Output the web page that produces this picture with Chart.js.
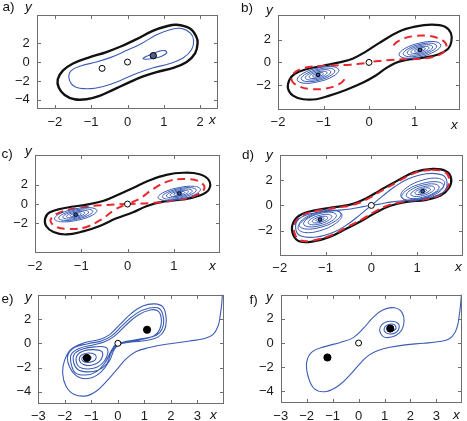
<!DOCTYPE html>
<html><head><meta charset="utf-8">
<script src="https://cdn.jsdelivr.net/npm/chart.js@4.4.1/dist/chart.umd.min.js"></script>
<style>
html,body{margin:0;padding:0;background:#fff;}
body{width:467px;height:421px;position:relative;overflow:hidden;font-family:"Liberation Sans",Arial,Helvetica,sans-serif;}
.pw{position:absolute;}
.pw canvas{display:block;}
.t{position:absolute;font-size:13.5px;line-height:14px;color:#111;white-space:nowrap;}
.i{font-style:italic;}
</style></head><body>
<script>
// ---------------- DATA ----------------
// tick values
const A_XTICKS = [-2,-1,0,1,2];
const A_YTICKS = [-4,-2,0,2];
const BCD_XTICKS = [-2,-1,0,1];
const BCD_YTICKS = [-2,0,2];
const EF_XTICKS = [-3,-2,-1,0,1,2,3];
const EF_YTICKS = [-4,-2,0,2];

// panel a
const A_BOUNDARY = [[1.35,3.94],[1.72,3.55],[1.89,2.73],[1.93,1.97],[1.86,0.91],[1.63,0],[1.26,-0.61],[0.80,-1.06],[0.43,-1.52],[0.06,-2.12],[-0.40,-2.94],[-0.77,-3.58],[-1.13,-3.94],[-1.46,-3.94],[-1.73,-3.48],[-1.89,-2.73],[-1.92,-1.82],[-1.78,-0.91],[-1.50,-0.15],[-1.09,0.45],[-0.58,1.06],[-0.17,1.67],[0.25,2.42],[0.71,3.33],[1.08,3.79]];
const A_INNER = [[1.49,3.55],[1.74,3.03],[1.82,2.27],[1.77,1.36],[1.54,0.45],[1.17,-0.15],[0.71,-0.61],[0.25,-1.21],[-0.21,-1.97],[-0.67,-2.58],[-1.09,-2.82],[-1.46,-2.58],[-1.61,-1.73],[-1.55,-0.91],[-1.27,-0.39],[-0.86,0],[-0.44,0.52],[-0.03,1.21],[0.39,1.97],[0.80,2.88],[1.17,3.42]];
const A_LOOP = [[0.43,0.39],[0.62,0.76],[0.85,1.12],[1.03,1.21],[1.08,0.97],[0.94,0.61],[0.71,0.39],[0.53,0.30]];
const A_SADDLES = [[-0.70,-0.67],[0,0]];
const A_FOCUS = [[0.71,0.67]];

// panel b
const B_BOUNDARY = [[1.38,3.33],[1.67,3.15],[1.80,2.58],[1.81,1.83],[1.74,1.2],[1.52,0.7],[1.16,0.4],[0.80,0.2],[0.58,-0.05],[0.36,-0.55],[0.14,-1.18],[-0.14,-1.8],[-0.51,-2.43],[-0.87,-2.93],[-1.16,-3.25],[-1.45,-3.25],[-1.67,-2.93],[-1.78,-2.3],[-1.75,-1.55],[-1.63,-1.0],[-1.38,-0.6],[-1.01,-0.3],[-0.65,0],[-0.36,0.33],[-0.07,0.95],[0.22,1.7],[0.65,2.7],[1.01,3.15]];
const B_RED_R = [[0.1,0.08],[0.4,0.2],[0.75,0.27],[1.1,0.32],[1.45,0.52],[1.67,1.02],[1.69,1.65],[1.53,2.12],[1.25,2.36],[0.95,2.3],[0.7,2.0],[0.55,1.55],[0.56,1.1]];
const B_RED_L = [[-0.1,-0.08],[-0.4,-0.2],[-0.75,-0.27],[-1.1,-0.32],[-1.45,-0.52],[-1.67,-1.02],[-1.69,-1.65],[-1.53,-2.12],[-1.25,-2.36],[-0.95,-2.3],[-0.7,-2.0],[-0.55,-1.55],[-0.56,-1.1]];
const BC_RINGS_R = [
 [[1.58,1.52],[1.45,1.83],[1.12,1.71],[0.79,1.23],[0.66,0.68],[0.79,0.38],[1.12,0.49],[1.45,0.97]],
 [[1.49,1.44],[1.38,1.69],[1.12,1.59],[0.86,1.2],[0.75,0.76],[0.86,0.51],[1.12,0.61],[1.38,1.0]],
 [[1.40,1.36],[1.32,1.55],[1.12,1.48],[0.92,1.18],[0.84,0.84],[0.92,0.65],[1.12,0.72],[1.32,1.02]],
 [[1.32,1.29],[1.26,1.42],[1.12,1.37],[0.98,1.16],[0.92,0.91],[0.98,0.78],[1.12,0.83],[1.26,1.04]],
 [[1.24,1.21],[1.21,1.3],[1.12,1.26],[1.03,1.13],[1.0,0.99],[1.03,0.9],[1.12,0.94],[1.21,1.07]],
 [[1.18,1.16],[1.16,1.2],[1.12,1.18],[1.08,1.12],[1.06,1.04],[1.08,1.0],[1.12,1.02],[1.16,1.08]]
];
const BC_RINGS_L = [
 [[-1.58,-1.52],[-1.45,-1.83],[-1.12,-1.71],[-0.79,-1.23],[-0.66,-0.68],[-0.79,-0.38],[-1.12,-0.49],[-1.45,-0.97]],
 [[-1.49,-1.44],[-1.38,-1.69],[-1.12,-1.59],[-0.86,-1.2],[-0.75,-0.76],[-0.86,-0.51],[-1.12,-0.61],[-1.38,-1.0]],
 [[-1.40,-1.36],[-1.32,-1.55],[-1.12,-1.48],[-0.92,-1.18],[-0.84,-0.84],[-0.92,-0.65],[-1.12,-0.72],[-1.32,-1.02]],
 [[-1.32,-1.29],[-1.26,-1.42],[-1.12,-1.37],[-0.98,-1.16],[-0.92,-0.91],[-0.98,-0.78],[-1.12,-0.83],[-1.26,-1.04]],
 [[-1.24,-1.21],[-1.21,-1.3],[-1.12,-1.26],[-1.03,-1.13],[-1.0,-0.99],[-1.03,-0.9],[-1.12,-0.94],[-1.21,-1.07]],
 [[-1.18,-1.16],[-1.16,-1.2],[-1.12,-1.18],[-1.08,-1.12],[-1.06,-1.04],[-1.08,-1.0],[-1.12,-1.02],[-1.16,-1.08]]
];
const BC_FOCI = [[1.12,1.1],[-1.12,-1.1]];
const SADDLE0 = [[0,0]];

// panel c
const C_BOUNDARY = [[1.20,3.24],[1.56,3.09],[1.76,2.46],[1.76,1.51],[1.56,0.88],[1.20,0.47],[0.77,0.25],[0.41,-0.22],[0.12,-0.85],[-0.24,-1.48],[-0.60,-2.27],[-0.96,-2.83],[-1.32,-3.15],[-1.60,-2.9],[-1.76,-2.27],[-1.78,-1.48],[-1.68,-0.85],[-1.32,-0.38],[-0.88,-0.06],[-0.53,0.31],[-0.24,0.88],[0.12,1.67],[0.48,2.46],[0.84,3.02]];
const C_RED_R = [[0,0],[0.55,0.12],[0.98,0.34],[1.42,0.8],[1.66,1.57],[1.57,2.3],[1.27,2.58],[0.91,2.4],[0.55,1.55],[0.27,0.57],[0,0]];
const C_RED_L = [[0,0],[-0.55,-0.12],[-0.98,-0.34],[-1.42,-0.8],[-1.66,-1.57],[-1.57,-2.3],[-1.27,-2.58],[-0.91,-2.4],[-0.55,-1.55],[-0.27,-0.57],[0,0]];

// panel d
const D_BOUNDARY = [[1.34,2.88],[1.63,2.71],[1.74,2.15],[1.70,1.41],[1.52,0.80],[1.20,0.44],[0.76,0.27],[0.40,-0.05],[0.11,-0.54],[-0.18,-1.15],[-0.54,-1.83],[-0.91,-2.49],[-1.27,-2.85],[-1.56,-2.85],[-1.70,-2.37],[-1.72,-1.51],[-1.56,-0.78],[-1.20,-0.37],[-0.76,-0.12],[-0.40,0.12],[-0.11,0.56],[0.18,1.17],[0.54,1.90],[0.94,2.63]];
const D_RED = [[1.33,2.8],[1.6,2.64],[1.7,2.13],[1.66,1.41],[1.49,0.84],[1.19,0.5],[0.76,0.33],[0.38,0.02],[0.09,-0.47],[-0.19,-1.07],[-0.55,-1.75],[-0.91,-2.41],[-1.27,-2.77],[-1.54,-2.78],[-1.66,-2.35],[-1.68,-1.51],[-1.52,-0.82],[-1.19,-0.43],[-0.76,-0.18],[-0.39,0.05],[-0.09,0.49],[0.19,1.09],[0.55,1.82],[0.94,2.55]];
const D_FIG8 = [[0,0],[0.25,0.75],[0.5,1.45],[0.8,2.08],[1.2,2.5],[1.55,2.4],[1.65,1.85],[1.6,1.15],[1.35,0.68],[0.9,0.45],[0.45,0.28],[0.15,0.08],[0,0],[-0.15,-0.08],[-0.45,-0.28],[-0.9,-0.45],[-1.35,-0.68],[-1.6,-1.15],[-1.65,-1.85],[-1.55,-2.4],[-1.2,-2.5],[-0.8,-2.08],[-0.5,-1.45],[-0.25,-0.75],[0,0]];
const D_RINGS_R = [
 [[1.6,1.78],[1.46,2.14],[1.12,2.0],[0.78,1.43],[0.64,0.78],[0.78,0.42],[1.12,0.56],[1.46,1.13]],
 [[1.58,1.55],[1.45,1.86],[1.12,1.74],[0.79,1.25],[0.66,0.69],[0.79,0.38],[1.12,0.5],[1.45,0.99]],
 [[1.48,1.45],[1.38,1.69],[1.12,1.6],[0.86,1.22],[0.76,0.79],[0.86,0.55],[1.12,0.64],[1.38,1.02]],
 [[1.38,1.36],[1.31,1.53],[1.12,1.46],[0.94,1.19],[0.86,0.88],[0.94,0.71],[1.12,0.78],[1.31,1.05]],
 [[1.29,1.27],[1.24,1.39],[1.12,1.34],[1.0,1.17],[0.95,0.97],[1.0,0.86],[1.12,0.9],[1.24,1.07]],
 [[1.21,1.2],[1.18,1.26],[1.12,1.24],[1.06,1.14],[1.03,1.04],[1.06,0.98],[1.12,1.0],[1.18,1.1]]
];
const D_RINGS_L = [
 [[-1.6,-1.78],[-1.46,-2.14],[-1.12,-2.0],[-0.78,-1.43],[-0.64,-0.78],[-0.78,-0.42],[-1.12,-0.56],[-1.46,-1.13]],
 [[-1.58,-1.55],[-1.45,-1.86],[-1.12,-1.74],[-0.79,-1.25],[-0.66,-0.69],[-0.79,-0.38],[-1.12,-0.5],[-1.45,-0.99]],
 [[-1.48,-1.45],[-1.38,-1.69],[-1.12,-1.6],[-0.86,-1.22],[-0.76,-0.79],[-0.86,-0.55],[-1.12,-0.64],[-1.38,-1.02]],
 [[-1.38,-1.36],[-1.31,-1.53],[-1.12,-1.46],[-0.94,-1.19],[-0.86,-0.88],[-0.94,-0.71],[-1.12,-0.78],[-1.31,-1.05]],
 [[-1.29,-1.27],[-1.24,-1.39],[-1.12,-1.34],[-1.0,-1.17],[-0.95,-0.97],[-1.0,-0.86],[-1.12,-0.9],[-1.24,-1.07]],
 [[-1.21,-1.2],[-1.18,-1.26],[-1.12,-1.24],[-1.06,-1.14],[-1.03,-1.04],[-1.06,-0.98],[-1.12,-1.0],[-1.18,-1.1]]
];
const D_FOCI = [[1.12,1.12],[-1.12,-1.12]];

// panel e
const E_TRAJ = [
 [3.98,4.6],[3.94,4.05],[3.92,3.39],[3.86,2.32],[3.77,1.39],[3.58,0.72],[3.27,0.4],[2.7,0.19],[1.82,-0.08],[1.19,-0.35],[0.69,-0.67],[0.31,-1.28],[-0.06,-2.21],[-0.44,-3.15],[-0.82,-3.95],[-1.19,-4.33],[-1.64,-4.21],[-1.95,-3.55],[-2.08,-2.48],[-2.01,-1.41],[-1.76,-0.48],[-1.26,0.05],[-0.69,0.32],[-0.31,0.72],[0.06,1.52],[0.5,2.45],[0.94,3.07],[1.38,3.25],[1.7,2.99],[1.82,2.05],[1.76,1.12],[1.51,0.51],[1.07,0.24],[0.5,0.11],[0.06,-0.08],
 [-0.13,-0.48],[-0.31,-1.41],[-0.63,-2.35],[-1.07,-2.88],[-1.51,-2.75],[-1.82,-1.95],[-1.89,-1.01],[-1.64,-0.35],[-1.13,-0.03],[-0.63,0.19],[-0.25,0.59],[0.19,1.52],[0.69,2.45],[1.19,2.91],[1.57,2.85],[1.72,2.05],[1.67,1.2],[1.45,0.67],[0.94,0.4],[0.38,0.19],[-0.06,-0.08],
 [-0.25,-0.61],[-0.47,-1.55],[-0.82,-2.35],[-1.22,-2.61],[-1.6,-2.43],[-1.76,-1.68],[-1.76,-0.93],[-1.47,-0.43],[-0.94,-0.13],[-0.5,0.13],[-0.13,0.59],[0.29,1.47],[0.75,2.32],[1.22,2.75],[1.53,2.64],[1.64,1.92],[1.57,1.12],[1.35,0.61],[0.88,0.32],[0.38,0.11],[-0.04,-0.13],
 [-0.25,-0.75],[-0.42,-1.68],[-0.75,-2.21],[-1.17,-2.35],[-1.51,-2.16],[-1.67,-1.55],[-1.64,-0.88],[-1.35,-0.48],[-0.88,-0.29],[-0.44,-0.35],
 [-0.38,-0.8],[-0.52,-1.5],[-0.8,-1.98],[-1.15,-2.12],[-1.45,-1.96],[-1.57,-1.5],[-1.53,-0.97],[-1.3,-0.64],[-0.95,-0.52],[-0.62,-0.65],
 [-0.58,-1.05],[-0.72,-1.55],[-1.0,-1.8],[-1.3,-1.75],[-1.45,-1.4],[-1.38,-0.98],[-1.1,-0.8],[-0.85,-0.95],
 [-0.85,-1.35],[-1.05,-1.55],[-1.3,-1.5],[-1.35,-1.2],[-1.2,-1.02],[-1.02,-1.12],[-1.05,-1.35],[-1.2,-1.35],[-1.22,-1.22]
];
const E_STABLE = [[-1.17,-1.2],[1.1,1.12]];

// panel f
const F_TRAJ = [
 [3.99,4.6],[3.96,3.9],[3.92,3.0],[3.88,2.3],[3.82,1.5],[3.72,0.9],[3.5,0.35],[3.1,0.12],[2.5,-0.02],[1.8,-0.15],[1.2,-0.35],[0.75,-0.62],[0.4,-1.0],[0.1,-1.6],[-0.25,-2.45],[-0.75,-3.5],[-1.25,-4.02],[-1.7,-3.8],[-1.94,-2.8],[-2.0,-1.6],[-1.8,-0.75],[-1.3,-0.3],[-0.7,0.05],[-0.2,0.45],[0.2,1.25],[0.55,2.1],[0.95,2.75],[1.38,2.92],[1.68,2.5],[1.74,1.6],[1.55,0.8],[1.1,0.45],[0.85,0.8],[0.87,1.45],[1.2,1.8],[1.53,1.6],[1.52,1.05],[1.25,0.75],[1.0,0.98],[1.05,1.42],[1.35,1.55],[1.44,1.2],[1.25,1.0],[1.12,1.18],[1.22,1.3],[1.28,1.2]
];
const F_STABLE = [[-1.2,-1.2],[1.22,1.2]];

// ---------------- RENDERING ----------------
const FONT = '"Liberation Sans", Arial, Helvetica, sans-serif';
const BLUE = '#3a5cb4';
const RED = '#e8262e';
const BLACK = '#111111';
const FRAME = '#6e6e6e';
const DASH = [8,5];

function pts(a){ return a.map(p => ({x:p[0], y:p[1]})); }
function curve(d, color, w, extra){
  return Object.assign({type:'line', data:pts(d), borderColor:color, borderWidth:w, pointRadius:0, pointHoverRadius:0, tension:0.4, fill:false, showLine:true}, extra || {});
}
function ring(d, color, w, extra){ return curve(d, color, w, Object.assign({closed:true}, extra || {})); }
function dots(d, fill, r){
  return {type:'line', data:pts(d), showLine:false, pointRadius:r, pointHoverRadius:r, pointBackgroundColor:fill, pointBorderColor:'#000', pointBorderWidth:1, borderWidth:0};
}
function fmt(v){ return v < 0 ? '\u2212' + (-v) : String(v); }

const loopPlugin = {
  id:'loopfix',
  afterDatasetUpdate(chart, args){
    const ds = chart.data.datasets[args.index];
    if (ds && ds.closed && args.meta && args.meta.dataset){
      const el = args.meta.dataset;
      el._loop = true; el._fullLoop = true;
      delete el._segments; el._path = undefined; el._pointsUpdated = false;
    }
  }
};
const framePlugin = {
  id:'frame',
  afterDraw(chart){
    const {ctx, chartArea:a} = chart;
    const sx = chart.scales.x, sy = chart.scales.y;
    const L = Math.round(a.left)+0.5, R = Math.round(a.right)-0.5, T = Math.round(a.top)+0.5, B = Math.round(a.bottom)-0.5;
    ctx.save();
    ctx.strokeStyle = FRAME; ctx.lineWidth = 1;
    ctx.strokeRect(L, T, R-L, B-T);
    ctx.beginPath();
    sx.ticks.forEach(t => { const p = Math.round(sx.getPixelForValue(t.value))+0.5; ctx.moveTo(p,B); ctx.lineTo(p,B-3.5); ctx.moveTo(p,T); ctx.lineTo(p,T+3.5); });
    sy.ticks.forEach(t => { const p = Math.round(sy.getPixelForValue(t.value))+0.5; ctx.moveTo(L,p); ctx.lineTo(L+3.5,p); ctx.moveTo(R,p); ctx.lineTo(R-3.5,p); });
    ctx.stroke();
    ctx.restore();
  }
};

function panel(cv, box, xr, yr, xt, yt, datasets){
  const wrap = document.createElement('div');
  wrap.className = 'pw';
  wrap.style.left = cv.x + 'px'; wrap.style.top = cv.y + 'px';
  wrap.style.width = cv.w + 'px'; wrap.style.height = cv.h + 'px';
  const c = document.createElement('canvas');
  c.width = cv.w; c.height = cv.h;
  c.style.width = cv.w + 'px'; c.style.height = cv.h + 'px';
  wrap.appendChild(c); document.body.appendChild(wrap);
  const yw = box.L - cv.x;
  const xh = cv.y + cv.h - box.B;
  const tickFont = {family:FONT, size:13};
  new Chart(c, {
    type:'line',
    data:{datasets},
    options:{
      responsive:false, animation:false, events:[],
      layout:{padding:{left:0, top:box.T - cv.y, right:cv.x + cv.w - box.R, bottom:0}},
      plugins:{legend:{display:false}, tooltip:{enabled:false}},
      scales:{
        x:{type:'linear', position:'bottom', min:xr[0], max:xr[1], bounds:'data',
           afterBuildTicks:s => { s.ticks = xt.map(v => ({value:v})); },
           afterFit:s => { s.height = xh; },
           grid:{display:false, drawTicks:false}, border:{display:false},
           ticks:{padding:5, autoSkip:false, maxRotation:0, minRotation:0, color:'#1a1a1a', font:tickFont, callback:fmt}},
        y:{type:'linear', position:'left', min:yr[0], max:yr[1], bounds:'data',
           afterBuildTicks:s => { s.ticks = yt.map(v => ({value:v})); },
           afterFit:s => { s.width = yw; },
           grid:{display:false, drawTicks:false}, border:{display:false},
           ticks:{padding:7, autoSkip:false, color:'#1a1a1a', font:tickFont, callback:fmt}}
      }
    },
    plugins:[loopPlugin, framePlugin]
  });
}

// a
panel({x:0,y:0,w:233,h:140}, {L:36.7,R:218.3,T:1,B:109.3}, [-2.5,2.5], [-5,5], A_XTICKS, A_YTICKS, [
  dots(A_SADDLES, '#ffffff', 3),
  dots(A_FOCUS, '#4d5f8c', 3.2),
  ring(A_LOOP, BLUE, 1.1),
  ring(A_INNER, BLUE, 1.1),
  ring(A_BOUNDARY, BLACK, 2.4)
]);

// b
panel({x:233,y:0,w:234,h:140}, {L:278,R:460,T:1,B:110}, [-2,2], [-4.2,4.2], BCD_XTICKS, BCD_YTICKS, [
  dots(SADDLE0, '#ffffff', 3),
  dots(BC_FOCI, BLUE, 1.8),
  ...BC_RINGS_R.map(r => ring(r, BLUE, 1)),
  ...BC_RINGS_L.map(r => ring(r, BLUE, 1)),
  curve(B_RED_R, RED, 2, {borderDash:DASH}),
  curve(B_RED_L, RED, 2, {borderDash:DASH}),
  ring(B_BOUNDARY, BLACK, 2.2)
]);

// c
panel({x:0,y:140,w:233,h:140}, {L:35,R:220,T:145,B:253.3}, [-2,2], [-5.1,5.1], BCD_XTICKS, BCD_YTICKS, [
  dots(SADDLE0, '#ffffff', 3),
  dots(BC_FOCI, BLUE, 1.8),
  ...BC_RINGS_R.map(r => ring(r, BLUE, 1)),
  ...BC_RINGS_L.map(r => ring(r, BLUE, 1)),
  curve(C_RED_R, RED, 2, {borderDash:DASH}),
  curve(C_RED_L, RED, 2, {borderDash:DASH}),
  ring(C_BOUNDARY, BLACK, 2.2)
]);

// d
panel({x:233,y:140,w:234,h:140}, {L:279.7,R:463,T:146,B:256}, [-2,2], [-4,4], BCD_XTICKS, BCD_YTICKS, [
  dots(SADDLE0, '#ffffff', 3),
  dots(D_FOCI, BLUE, 1.8),
  ...D_RINGS_R.map(r => ring(r, BLUE, 1)),
  ...D_RINGS_L.map(r => ring(r, BLUE, 1)),
  curve(D_FIG8, BLUE, 1.1),
  ring(D_RED, RED, 2, {borderDash:DASH}),
  ring(D_BOUNDARY, BLACK, 2.2)
]);

// e
panel({x:0,y:280,w:233,h:141}, {L:38.3,R:224,T:293.3,B:404}, [-3,4], [-5,4], EF_XTICKS, EF_YTICKS, [
  dots(SADDLE0, '#ffffff', 3),
  dots(E_STABLE, '#000000', 3.6),
  curve(E_TRAJ, BLUE, 1.1)
]);

// f
panel({x:233,y:280,w:234,h:141}, {L:280.7,R:465.3,T:293.3,B:403.3}, [-3,4], [-5,4], EF_XTICKS, EF_YTICKS, [
  dots(SADDLE0, '#ffffff', 3),
  dots(F_STABLE, '#000000', 3.6),
  curve(F_TRAJ, BLUE, 1.1)
]);
</script>
<div class="t" style="left:2.5px;top:0.3px">a)</div>
<div class="t i" style="left:25px;top:-0.5px">y</div>
<div class="t i" style="left:209px;top:113.3px">x</div>
<div class="t" style="left:241px;top:0.8px">b)</div>
<div class="t i" style="left:266px;top:2.5px">y</div>
<div class="t i" style="left:451px;top:118.3px">x</div>
<div class="t" style="left:1.5px;top:146.8px">c)</div>
<div class="t i" style="left:25px;top:143.8px">y</div>
<div class="t i" style="left:209px;top:259.3px">x</div>
<div class="t" style="left:242px;top:148.3px">d)</div>
<div class="t i" style="left:266px;top:148.3px">y</div>
<div class="t i" style="left:455px;top:260.3px">x</div>
<div class="t" style="left:1.5px;top:292.3px">e)</div>
<div class="t i" style="left:25px;top:290.3px">y</div>
<div class="t i" style="left:210px;top:407.8px">x</div>
<div class="t" style="left:249.5px;top:293.3px">f)</div>
<div class="t i" style="left:266px;top:290.3px">y</div>
<div class="t i" style="left:453px;top:407.8px">x</div>
</body></html>
